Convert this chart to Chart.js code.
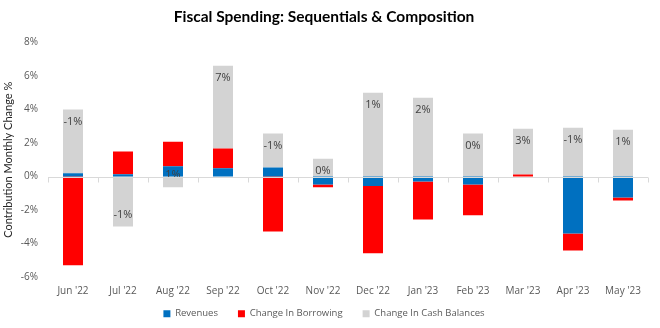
<!DOCTYPE html>
<html>
<head>
<meta charset="utf-8">
<script src="https://cdn.jsdelivr.net/npm/chart.js@4"></script>
<style>
html,body{margin:0;padding:0;background:#fff;}
#wrap{width:660px;height:328px;position:relative;}
</style>
</head>
<body>
<div id="wrap"><canvas id="c" width="660" height="328"></canvas></div>
<script>
const categories = ["Jun '22","Jul '22","Aug '22","Sep '22","Oct '22","Nov '22","Dec '22","Jan '23","Feb '23","Mar '23","Apr '23","May '23"];
const revenues = [0.2, 0.14, 0.61, 0.5, 0.54, -0.48, -0.56, -0.3, -0.48, 0, -3.4, -1.25];
const borrowing = [-5.3, 1.35, 1.47, 1.17, -3.28, -0.16, -4.02, -2.27, -1.83, 0.12, -1.01, -0.18];
const cashBalances = [3.8, -2.98, -0.64, 4.95, 2.03, 1.07, 5.01, 4.71, 2.57, 2.74, 2.92, 2.8];
const cashLabels = ["-1%","-1%","1%","7%","-1%","0%","1%","2%","0%","3%","-1%","1%"];
const yTicks = [-6,-4,-2,0,2,4,6,8];

const FONT = "'Open Sans', sans-serif";

const labelPlugin = {
  id: 'cashLabels',
  afterDatasetsDraw(chart) {
    const meta = chart.getDatasetMeta(2);
    const ctx = chart.ctx;
    ctx.save();
    ctx.font = "11px " + FONT;
    ctx.fillStyle = '#404040';
    ctx.textAlign = 'center';
    ctx.textBaseline = 'middle';
    meta.data.forEach((el, i) => {
      const v = cashBalances[i];
      const y = v >= 0 ? el.y + 12 : el.y - 12;
      ctx.fillText(cashLabels[i], el.x, y);
    });
    ctx.restore();
  }
};

const zeroTicksPlugin = {
  id: 'zeroTicks',
  afterDatasetsDraw(chart) {
    const x = chart.scales.x, y = chart.scales.y;
    const y0 = Math.round(y.getPixelForValue(0)) + 0.5;
    const ctx = chart.ctx;
    ctx.save();
    ctx.strokeStyle = '#d9d9d9';
    ctx.lineWidth = 1;
    ctx.beginPath();
    ctx.moveTo(x.left, y0); ctx.lineTo(x.right, y0);
    const n = categories.length;
    for (let i = 0; i <= n; i++) {
      const px = Math.round(x.left + (x.right - x.left) * i / n) + 0.5;
      ctx.moveTo(px, y0); ctx.lineTo(px, y0 + 5);
    }
    ctx.stroke();
    ctx.restore();
  }
};

const legendFitPlugin = {
  id: 'legendFit',
  beforeLayout(chart) {
    const lg = chart.legend;
    if (lg && !lg._patched) {
      const f = lg.fit;
      lg.fit = function() { f.call(this); this.height = 29; };
      const d = lg.draw;
      lg.draw = function() {
        const t = this.top, b = this.bottom;
        this.top = t - 10; this.bottom = b - 10;
        d.apply(this, arguments);
        this.top = t; this.bottom = b;
      };
      lg._patched = true;
    }
  }
};

new Chart(document.getElementById('c'), {
  type: 'bar',
  data: {
    labels: categories,
    datasets: [
      {label: 'Revenues', data: revenues, backgroundColor: '#0070C0', stack: 's'},
      {label: 'Change In Borrowing', data: borrowing, backgroundColor: '#FF0000', stack: 's'},
      {label: 'Change In Cash Balances', data: cashBalances, backgroundColor: '#D3D3D3', stack: 's'}
    ]
  },
  options: {
    responsive: false,
    animation: false,
    categoryPercentage: 0.8,
    barPercentage: 0.5,
    layout: {padding: {left: 0, right: 12, top: 0, bottom: 0}},
    plugins: {
      title: {
        display: true,
        text: 'Fiscal Spending: Sequentials & Composition',
        color: '#000',
        font: {family: "Lato, sans-serif", size: 15.5, weight: 'bold'},
        padding: {top: 8, bottom: 16}
      },
      legend: {
        position: 'bottom',
        labels: {
          boxWidth: 7, boxHeight: 7, padding: 20,
          color: '#595959',
          font: {family: FONT, size: 9.5}
        }
      },
      tooltip: {enabled: false}
    },
    scales: {
      x: {
        stacked: true,
        afterFit(scale) { scale.height = 22; },
        grid: {display: false, drawTicks: false},
        border: {display: false},
        ticks: {color: '#595959', font: {family: FONT, size: 10}, padding: 8, maxRotation: 0}
      },
      y: {
        stacked: true,
        min: -6, max: 8,
        afterBuildTicks(scale) { scale.ticks = yTicks.map(v => ({value: v})); },
        afterFit(scale) { scale.width = 48; },
        grid: {display: false, drawTicks: false},
        border: {display: false},
        ticks: {
          color: '#595959', font: {family: FONT, size: 10}, padding: 10,
          callback: v => v + '%'
        },
        title: {
          display: true,
          text: 'Contribution Monthly Change %',
          color: '#262626',
          font: {family: "Lato, sans-serif", size: 11},
          padding: {top: 2, bottom: 0}
        }
      }
    }
  },
  plugins: [labelPlugin, zeroTicksPlugin, legendFitPlugin]
});
</script>
</body>
</html>
